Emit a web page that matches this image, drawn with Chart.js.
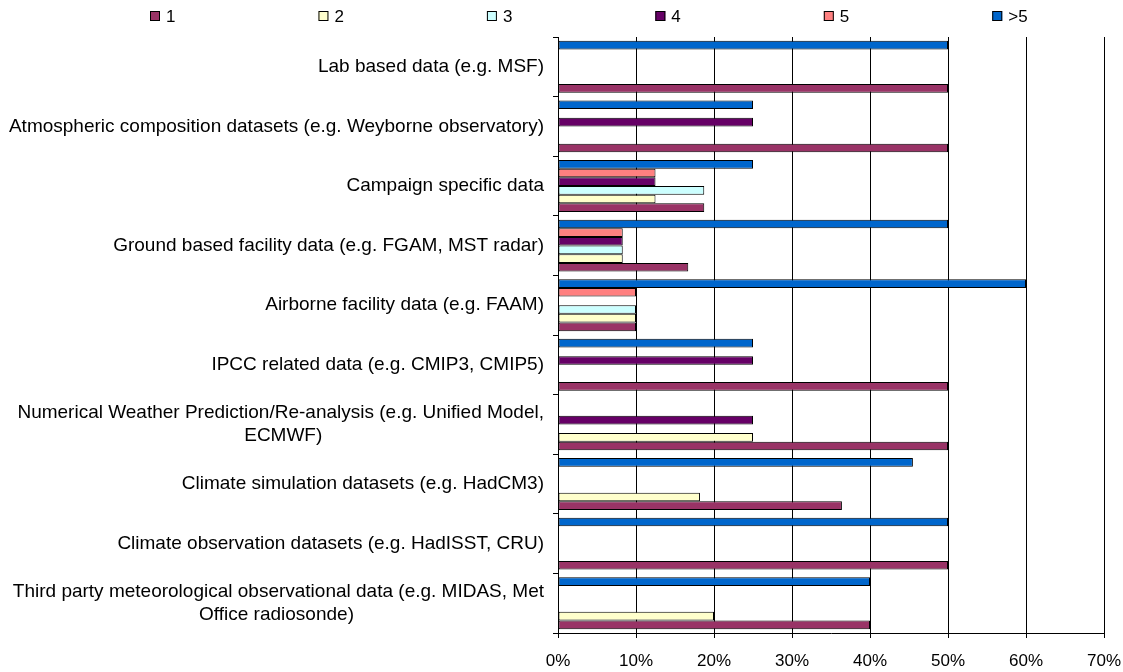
<!DOCTYPE html>
<html lang="en">
<head>
<meta charset="UTF-8">
<title>Data used by respondents</title>
<script src="https://cdn.jsdelivr.net/npm/chart.js"></script>
<style>
    html, body { margin: 0; padding: 0; background: #fff; }
    .chart-container { position: relative; width: 1123px; height: 672px; }
</style>
</head>
<body>
<div class="chart-container"><canvas id="barChart"></canvas></div>
<script>
    // categories are listed bottom to top (the y axis is reversed, like Excel)
    const categories = [
        ['Third party meteorological observational data (e.g. MIDAS, Met', 'Office radiosonde)'],
        'Climate observation datasets (e.g. HadISST, CRU)',
        'Climate simulation datasets (e.g. HadCM3)',
        ['Numerical Weather Prediction/Re-analysis (e.g. Unified Model,', 'ECMWF)'],
        'IPCC related data (e.g. CMIP3, CMIP5)',
        'Airborne facility data (e.g. FAAM)',
        'Ground based facility data (e.g. FGAM, MST radar)',
        'Campaign specific data',
        'Atmospheric composition datasets (e.g. Weyborne observatory)',
        'Lab based data (e.g. MSF)'
    ];

    const seriesNames = ['1', '2', '3', '4', '5', '>5'];

    // percentages, same order as categories
    const values1 = [40, 50, 36.4, 50, 50, 10, 16.7, 18.75, 50, 50];
    const values2 = [20, 0, 18.2, 25, 0, 10, 8.3, 12.5, 0, 0];
    const values3 = [0, 0, 0, 0, 0, 10, 8.3, 18.75, 0, 0];
    const values4 = [0, 0, 0, 25, 25, 0, 8.3, 12.5, 25, 0];
    const values5 = [0, 0, 0, 0, 0, 10, 8.3, 12.5, 0, 0];
    const values6 = [40, 50, 45.5, 0, 25, 60, 50, 25, 25, 50];

    const xTicks = [0, 10, 20, 30, 40, 50, 60, 70];

    const seriesColors = ['#993366', '#FFFFCC', '#CCFFFF', '#660066', '#FF8080', '#0066CC'];

    const FONT = '"Liberation Sans", Arial, sans-serif';
    const labelSize = 19;

    // Excel centres wrapped category labels; pad the short lines so they sit centred
    const measureCtx = document.createElement('canvas').getContext('2d');
    measureCtx.font = labelSize + 'px ' + FONT;
    function centerLines(label) {
        if (!Array.isArray(label)) return label;
        const widths = label.map(s => measureCtx.measureText(s).width);
        const widest = Math.max(...widths);
        const space = measureCtx.measureText(' ').width;
        return label.map((s, i) => s + ' '.repeat(Math.round((widest - widths[i]) / 2 / space)));
    }

    const allValues = [values1, values2, values3, values4, values5, values6];

    // series 1 sits at the bottom of each group, so datasets go in reverse order
    const datasets = seriesNames.map((name, i) => ({
        label: name,
        data: allValues[i],
        backgroundColor: seriesColors[i],
        borderColor: '#000',
        borderWidth: 1,
        borderSkipped: false,
        categoryPercentage: 0.87,
        barPercentage: 1.0
    })).reverse();

    // legend across the top, evenly spread like the original, in series order
    const topLegend = {
        id: 'topLegend',
        afterDraw(chart) {
            const ctx = chart.ctx;
            const step = chart.width * 0.15;
            const items = chart.data.datasets.slice().reverse();
            ctx.save();
            ctx.font = '17px ' + FONT;
            ctx.textBaseline = 'middle';
            items.forEach((ds, i) => {
                const x = 150 + i * step;
                const y = 16;
                ctx.fillStyle = ds.backgroundColor;
                ctx.fillRect(x, y - 5, 10, 10);
                ctx.strokeStyle = '#000';
                ctx.lineWidth = 1;
                ctx.strokeRect(x + 0.5, y - 4.5, 9, 9);
                ctx.fillStyle = '#000';
                ctx.fillText(ds.label, x + 16, y + 1);
            });
            ctx.restore();
        }
    };

    const ctxBar = document.getElementById('barChart').getContext('2d');
    const barChart = new Chart(ctxBar, {
        type: 'bar',
        data: {
            labels: categories,
            datasets: datasets
        },
        options: {
            indexAxis: 'y',
            responsive: true,
            maintainAspectRatio: false,
            animation: false,
            layout: { padding: { top: 37, right: 19, bottom: 0, left: 0 } },
            plugins: {
                legend: { display: false },
                tooltip: { enabled: false }
            },
            scales: {
                x: {
                    min: 0,
                    max: 70,
                    afterBuildTicks: scale => { scale.ticks = xTicks.map(v => ({ value: v })); },
                    afterFit: scale => {
                        scale.height = 39;
                        scale.paddingLeft = 0;
                        scale.paddingRight = 0;
                    },
                    ticks: {
                        color: '#000',
                        font: { family: FONT, size: 17 },
                        padding: 13,
                        callback: v => v + '%'
                    },
                    grid: { color: '#000', tickLength: 5 },
                    border: { color: '#000' }
                },
                y: {
                    reverse: true,
                    afterFit: scale => {
                        scale.width = 558;
                        scale.paddingTop = 0;
                        scale.paddingBottom = 0;
                    },
                    ticks: {
                        color: '#000',
                        font: { family: FONT, size: labelSize },
                        padding: 9,
                        autoSkip: false,
                        callback: function (value) { return centerLines(this.getLabelForValue(value)); }
                    },
                    grid: { display: true, drawOnChartArea: false, color: '#000', tickLength: 5, offset: true },
                    border: { color: '#000' }
                }
            }
        },
        plugins: [topLegend]
    });
</script>
</body>
</html>
